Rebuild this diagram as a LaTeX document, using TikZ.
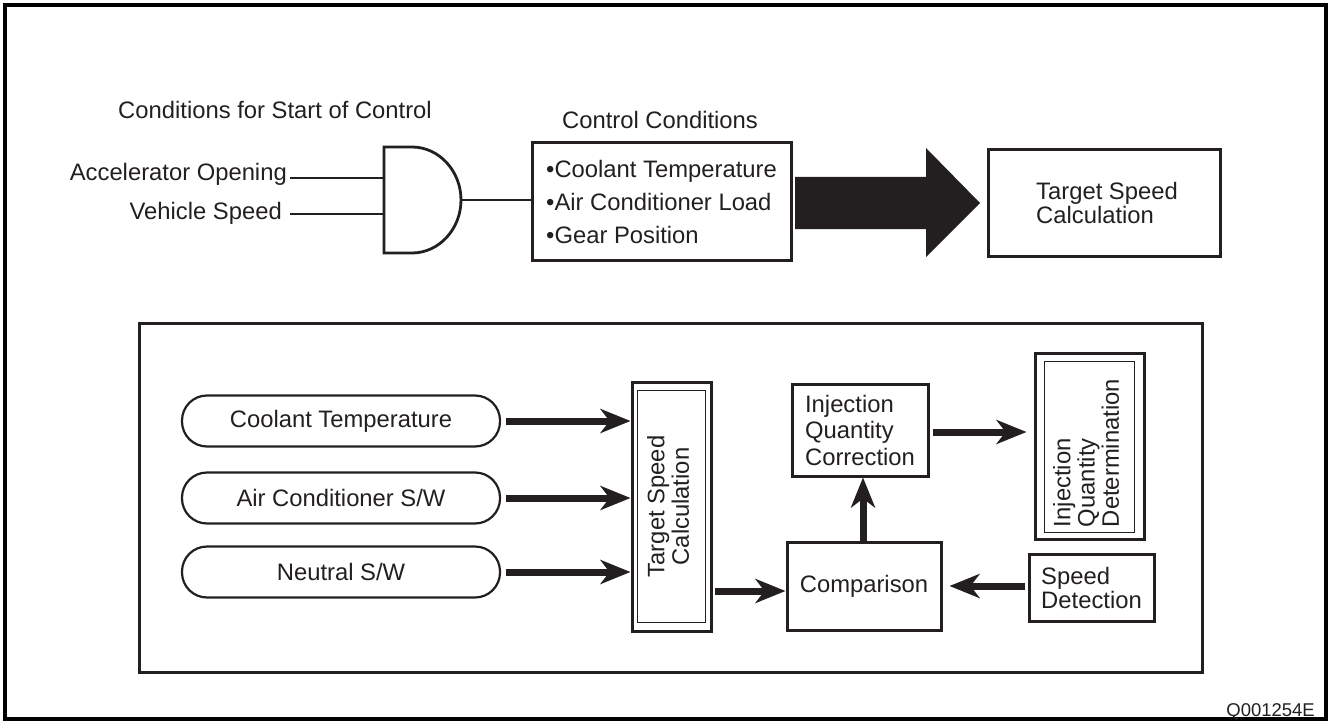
\documentclass[tikz,border=0pt]{standalone}
\usepackage{fontspec}
\setmainfont{Liberation Sans}
\usetikzlibrary{arrows.meta,calc}
\definecolor{ink}{RGB}{35,31,32}
\begin{document}
\begin{tikzpicture}[x=1pt,y=-1pt,
  every node/.style={font=\fontsize{23.8}{26}\selectfont, text=ink},
  box/.style={draw=ink, line width=3pt, inner sep=0pt},
  thinbox/.style={draw=ink, line width=1.8pt},
  pill/.style={draw=ink, line width=2.2pt, rounded corners=25pt, minimum width=318pt, minimum height=51pt, inner sep=0pt},
  wire/.style={draw=ink, line width=2.8pt},
  arr/.style={draw=ink, line width=7pt, -{Stealth[length=30pt,width=24pt,inset=9pt]}},
  lbl/.style={inner sep=0pt}
]
\useasboundingbox (0,0) rectangle (1329,722);
\draw[line width=3.5pt, black] (5,5) rectangle (1326,719);

% ---------- top section ----------
\node[lbl] (title1) at (275,110) {Conditions for Start of Control};
\node[lbl] (title2) at (660,120) {Control Conditions};

\node[lbl, anchor=base east] (acc) at (287,181) {Accelerator Opening};
\node[lbl, anchor=base east] (veh) at (282,219) {Vehicle Speed};

\coordinate (a1) at (290,178);
\coordinate (v1) at (290,214);
\coordinate (g1) at (384,178);
\coordinate (g2) at (384,214);
\coordinate (gout) at (461,200);

\draw[wire] (384,147) -- (412,147)
  .. controls (439,147) and (461,171) .. (gout)
  .. controls (461,229) and (439,253) .. (412,253)
  -- (384,253) -- cycle;
\draw[wire] (a1) -- (g1);
\draw[wire] (v1) -- (g2);

\node[box, minimum width=259pt, minimum height=117pt, align=left,
      font=\fontsize{23.8}{33}\selectfont] (cc) at (661.5,201.5)
  {•Coolant Temperature\\•Air Conditioner Load\\•Gear Position};
\draw[draw=ink, line width=1.8pt] (gout) -- (gout -| cc.west);

\node[box, minimum width=232pt, minimum height=106pt, align=left,
      font=\fontsize{23.8}{24}\selectfont] (tsc1) at (1104,203)
  {\hspace*{6pt}Target Speed\\\hspace*{6pt}Calculation};

\fill[ink] (795,177) -- (926,177) -- (926,148) -- (980,203) -- (926,257)
  -- (926,229) -- (795,229) -- cycle;

% ---------- bottom section ----------
\draw[draw=ink, line width=3pt] (139,323) rectangle (1202,672);

\node[pill] (e1) at (341,421) {Coolant Temperature};
\node[pill] (e2) at (341,498) {Air Conditioner S/W};
\node[pill] (e3) at (341,572) {Neutral S/W};

\node[box, minimum width=79pt, minimum height=249pt] (tsc2) at (671.5,506.5)
  {\fontsize{23.8}{24}\selectfont\rotatebox{90}{\renewcommand\arraystretch{1}\begin{tabular}{@{}c@{}}Target Speed\\Calculation\end{tabular}}};
\draw[thinbox] ([shift={(7,10)}]tsc2.north west) rectangle ([shift={(-7,-10)}]tsc2.south east);

\node[box, minimum width=154pt, minimum height=88pt] (comp) at (864,586) {Comparison};

\node[box, minimum width=136pt, minimum height=92pt, align=left,
      font=\fontsize{23.8}{26.5}\selectfont] (iqc) at (860,430)
  {Injection\\Quantity\\Correction};

\node[box, minimum width=109pt, minimum height=186pt] (iqd) at (1089.5,446)
  {\fontsize{23.8}{23.5}\selectfont\rotatebox{90}{\renewcommand\arraystretch{1}\begin{tabular}{@{}l@{}}Injection\\Quantity\\Determination\end{tabular}\hspace{14pt}}};
\draw[thinbox] ([shift={(11,10)}]iqd.north west) rectangle ([shift={(-11,-8)}]iqd.south east);

\node[box, minimum width=125pt, minimum height=67pt, align=left,
      font=\fontsize{23.8}{24}\selectfont] (sd) at (1091.5,587.5)
  {Speed\\Detection};

% arrows
\draw[arr, shorten <=5pt] (e1.east) -- (e1.east -| tsc2.west);
\draw[arr, shorten <=5pt] (e2.east) -- (e2.east -| tsc2.west);
\draw[arr, shorten <=5pt] (e3.east) -- (e3.east -| tsc2.west);

\coordinate (cin) at ([yshift=-5pt]comp.west);
\draw[arr, shorten <=2pt] (cin -| tsc2.east) -- (cin);

\draw[arr] ([xshift=-1pt]comp.north) -- ([xshift=-1pt]comp.north |- iqc.south);

\coordinate (qin) at ([yshift=-2pt]iqc.east);
\draw[arr, shorten <=3pt, shorten >=7pt] (qin) -- (qin -| iqd.west);

\coordinate (sin) at ([yshift=1.5pt]sd.west);
\draw[arr, shorten <=3pt, shorten >=7pt] (sin) -- (sin -| comp.east);

\node[lbl, anchor=base east, font=\fontsize{18.5}{20}\selectfont] (code) at (1315,716) {Q001254E};
\end{tikzpicture}
\end{document}
